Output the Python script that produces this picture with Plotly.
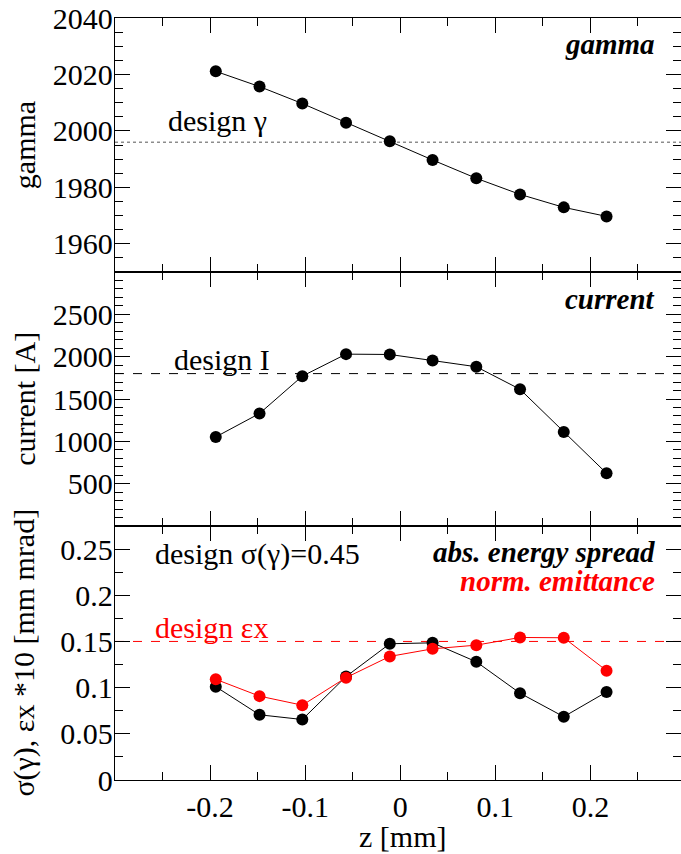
import plotly.graph_objects as go
from plotly.subplots import make_subplots

# ---- data ----
z = [-0.194, -0.148, -0.103, -0.057, -0.011, 0.034, 0.080, 0.126, 0.172, 0.217]
gamma = [2021.1, 2015.7, 2009.7, 2002.9, 1996.3, 1989.7, 1983.2, 1977.5, 1972.9, 1969.7]
current = [1052, 1329, 1770, 2030, 2026, 1956, 1881, 1615, 1111, 623]
energy_spread = [0.101, 0.0706, 0.0655, 0.112, 0.1475, 0.1485, 0.128, 0.094, 0.0685, 0.0953]
emittance = [0.109, 0.0908, 0.081, 0.1108, 0.1338, 0.142, 0.146, 0.1543, 0.154, 0.1184]

design_gamma = 1996
design_current = 1800
design_emittance = 0.15

x_ticks = [-0.2, -0.1, 0, 0.1, 0.2]
x_ticklabels = ["-0.2", "-0.1", "0", "0.1", "0.2"]
gamma_ticks = [1960, 1980, 2000, 2020, 2040]
current_ticks = [500, 1000, 1500, 2000, 2500]
spread_ticks = [0, 0.05, 0.1, 0.15, 0.2, 0.25]
spread_ticklabels = ["0", "0.05", "0.1", "0.15", "0.2", "0.25"]

FONT = "Liberation Serif"
BLACK = "#000000"
RED = "#ff0000"

fig = make_subplots(rows=3, cols=1, shared_xaxes=True, vertical_spacing=0)

mk = dict(size=12)
fig.add_trace(go.Scatter(x=z, y=gamma, mode="lines+markers",
                         line=dict(color=BLACK, width=1), marker=dict(color=BLACK, **mk)), row=1, col=1)
fig.add_trace(go.Scatter(x=z, y=current, mode="lines+markers",
                         line=dict(color=BLACK, width=1), marker=dict(color=BLACK, **mk)), row=2, col=1)
fig.add_trace(go.Scatter(x=z, y=energy_spread, mode="lines+markers",
                         line=dict(color=BLACK, width=1), marker=dict(color=BLACK, **mk)), row=3, col=1)
fig.add_trace(go.Scatter(x=z, y=emittance, mode="lines+markers",
                         line=dict(color=RED, width=1), marker=dict(color=RED, **mk)), row=3, col=1)

# design lines
fig.add_shape(type="line", xref="x domain", yref="y", x0=0, x1=1, y0=design_gamma, y1=design_gamma,
              line=dict(color="#555555", width=1, dash="dot"), layer="below")
fig.add_shape(type="line", xref="x2 domain", yref="y2", x0=0, x1=1, y0=design_current, y1=design_current,
              line=dict(color=BLACK, width=1, dash="dash"), layer="below")
fig.add_shape(type="line", xref="x3 domain", yref="y3", x0=0, x1=1, y0=design_emittance, y1=design_emittance,
              line=dict(color=RED, width=1, dash="dash"), layer="below")

axis_common = dict(showline=True, linecolor=BLACK, linewidth=1.3, mirror="ticks",
                   ticks="inside", ticklen=15, tickwidth=1, tickcolor=BLACK,
                   showgrid=False, zeroline=False, automargin=False,
                   tickfont=dict(family=FONT, size=30, color=BLACK))
minor_common = dict(ticklen=8, tickcolor=BLACK, ticks="inside", tickwidth=1)

for r in (1, 2, 3):
    fig.update_xaxes(range=[-0.3, 0.2953], tickmode="array", tickvals=x_ticks, ticktext=x_ticklabels,
                     minor=dict(dtick=0.05, tick0=0, **minor_common),
                     showticklabels=(r == 3), ticklabelstandoff=0, row=r, col=1, **axis_common)

ycommon = dict(ticklabelstandoff=-5, ticklabeloverflow="allow")
fig.update_yaxes(range=[1950, 2040.001], tickmode="array", tickvals=gamma_ticks,
                 minor=dict(dtick=5, tick0=1950, **minor_common),
                 row=1, col=1, **axis_common, **ycommon)
fig.update_yaxes(range=[0, 3000], tickmode="array", tickvals=current_ticks,
                 minor=dict(dtick=100, tick0=0, **minor_common),
                 row=2, col=1, **axis_common, **ycommon)
fig.update_yaxes(range=[0, 0.275], tickmode="array", tickvals=spread_ticks, ticktext=spread_ticklabels,
                 minor=dict(dtick=0.025, tick0=0, **minor_common),
                 row=3, col=1, **axis_common, **ycommon)

def txt(text, x, y, xref, yref, xanchor="left", color=BLACK, size=30, angle=0):
    fig.add_annotation(text=text, x=x, y=y, xref=xref, yref=yref, xanchor=xanchor, yanchor="middle",
                       showarrow=False, textangle=angle, borderpad=0,
                       font=dict(family=FONT, size=size, color=color))

# in-panel labels
txt("design γ", 0.092, 0.595, "x domain", "y domain")
txt("<b><i>gamma</i></b>", 0.956, 0.898, "x domain", "y domain", xanchor="right", size=29)
txt("design I", 0.103, 0.657, "x2 domain", "y2 domain")
txt("<b><i>current</i></b>", 0.956, 0.894, "x2 domain", "y2 domain", xanchor="right", size=29)
txt("design σ(γ)=0.45", 0.069, 0.89, "x3 domain", "y3 domain")
txt("design εx", 0.069, 0.602, "x3 domain", "y3 domain", color=RED)
txt("<b><i>abs. energy spread</i></b>", 0.956, 0.898, "x3 domain", "y3 domain", xanchor="right", size=29)
txt("<b><i>norm. emittance</i></b>", 0.956, 0.783, "x3 domain", "y3 domain", xanchor="right", color=RED, size=29)

# axis titles
txt("gamma", -0.161, 0.833, "paper", "paper", xanchor="center", size=30, angle=-90)
txt("current [A]", -0.161, 0.5, "paper", "paper", xanchor="center", size=30, angle=-90)
txt("σ(γ), εx *10 [mm mrad]", -0.161, 0.167, "paper", "paper", xanchor="center", size=30, angle=-90)
txt("z [mm]", 0.508, -0.0735, "paper", "paper", xanchor="center", size=30)

fig.update_layout(width=681, height=854, showlegend=False,
                  margin=dict(l=115, r=0, t=18, b=74),
                  paper_bgcolor="white", plot_bgcolor="white",
                  font=dict(family=FONT, size=30, color=BLACK))

# remove the browser's default 8px body margin so the figure fills the 681x854 window exactly
fig.write_html("out.html", config={"displayModeBar": False},
               post_script="document.body.style.margin='0';")
